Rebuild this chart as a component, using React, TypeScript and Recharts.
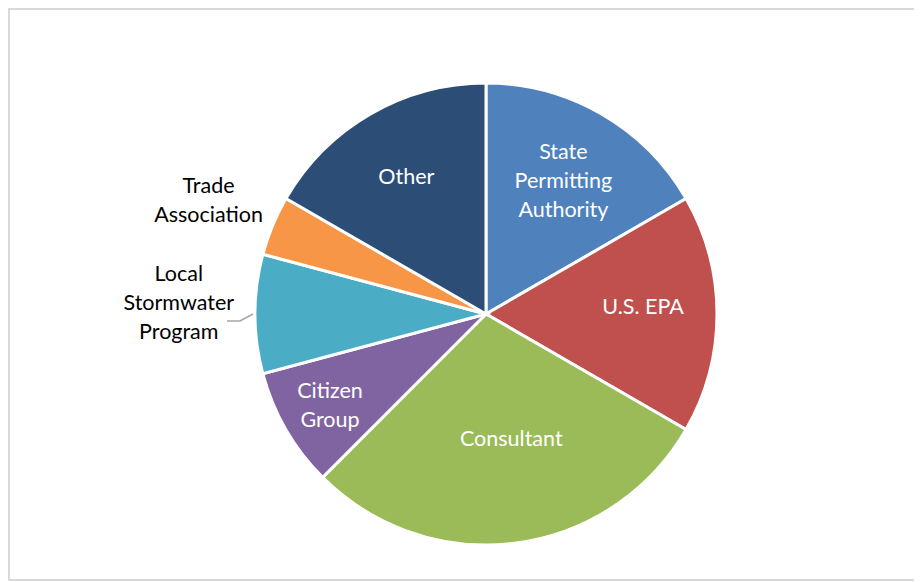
import { Cell, Pie, PieChart } from "recharts";

const categories = [
  "State Permitting Authority",
  "U.S. EPA",
  "Consultant",
  "Citizen Group",
  "Local Stormwater Program",
  "Trade Association",
  "Other",
];
const responses = [4, 4, 7, 2, 2, 1, 4];
const labelLines = [
  ["State", "Permitting", "Authority"],
  ["U.S. EPA"],
  ["Consultant"],
  ["Citizen", "Group"],
  ["Local", "Stormwater", "Program"],
  ["Trade", "Association"],
  ["Other"],
];

const colors = ["#4f81bd", "#c0504d", "#9bbb59", "#8064a2", "#4bacc6", "#f79646", "#2c4d75"];
// label distance from centre as a share of the radius, plus small nudges
const labelRadius = [0.67, 0.68, 0.54, 0.78, 1.33, 1.3, 0.69];
const nudgeX = [0, 0, 9, 0, 0, 0, 0];
const nudgeY = [0, -8, 0, 0, -12, 0, 0];
const outside = [false, false, false, false, true, true, false];

const data = categories.map((name, i) => ({ name, value: responses[i] }));

const RADIAN = Math.PI / 180;

function renderLabel(props: any) {
  const { cx, cy, midAngle, outerRadius, index } = props;
  const r = outerRadius * labelRadius[index];
  const x = cx + r * Math.cos(-midAngle * RADIAN) + nudgeX[index];
  const y = cy + r * Math.sin(-midAngle * RADIAN) + nudgeY[index];
  const lines = labelLines[index];
  const lh = 29;
  const top = y - ((lines.length - 1) * lh) / 2;
  const edge = cx - outerRadius;
  return (
    <g key={`lbl-${index}`}>
      {index === 4 && (
        <polyline
          points={`${edge - 2},${cy} ${edge - 15},${cy + 7} ${edge - 28},${cy + 7}`}
          fill="none"
          stroke="#a6a6a6"
          strokeWidth={1.5}
        />
      )}
      <text
        x={x}
        y={top}
        textAnchor="middle"
        dominantBaseline="central"
        fill={outside[index] ? "#000000" : "#ffffff"}
        fontFamily="Lato, 'Noto Sans', sans-serif"
        fontSize={21.5}
      >
        {lines.map((l, j) => (
          <tspan key={j} x={x} dy={j === 0 ? 0 : lh}>
            {l}
          </tspan>
        ))}
      </text>
    </g>
  );
}

export default function App() {
  return (
    <div style={{ position: "relative", marginLeft: -8, marginTop: -8, width: 922, height: 582, background: "#fff" }}>
      {/* frame: the page clips anything above/left of 8px, so top/left edges sit just inside */}
      <svg width={922} height={582} style={{ position: "absolute", left: 0, top: 0 }}>
        <polyline points="922,9 9,9 9,580 922,580" fill="none" stroke="#d9d9d9" strokeWidth={2} />
      </svg>
      <div style={{ position: "absolute", left: 0, top: 0 }}>
        <PieChart width={922} height={582} margin={{ top: 0, right: 0, bottom: 0, left: 0 }}>
          <Pie
            data={data}
            dataKey="value"
            nameKey="name"
            cx={486}
            cy={314}
            outerRadius={231}
            startAngle={90}
            endAngle={-270}
            stroke="#ffffff"
            strokeWidth={3}
            label={renderLabel}
            labelLine={false}
            isAnimationActive={false}
          >
            {data.map((d, i) => (
              <Cell key={d.name} fill={colors[i]} />
            ))}
          </Pie>
        </PieChart>
      </div>
    </div>
  );
}
